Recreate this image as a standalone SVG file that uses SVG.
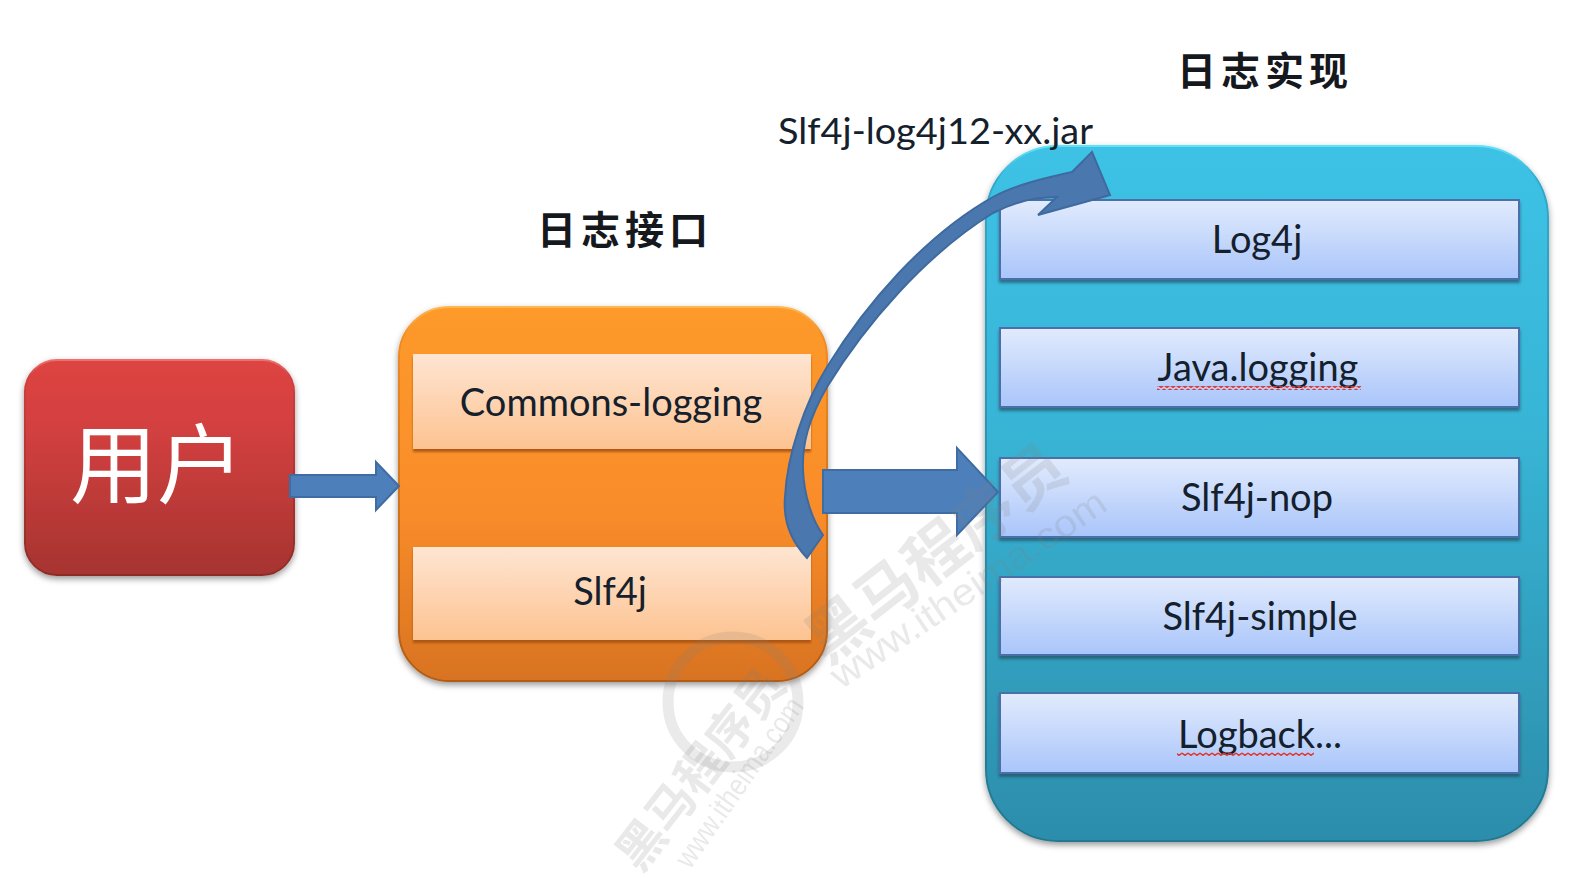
<svg xmlns="http://www.w3.org/2000/svg" width="1578" height="882" viewBox="0 0 1578 882">
<style>
.lbl{font-family:Lato,"Liberation Sans",sans-serif;font-size:38px;fill:#14202c;text-anchor:middle}
.title{font-family:"Noto Sans CJK SC",sans-serif;font-weight:700;font-size:39px;fill:#15181c;letter-spacing:5px}
.blue{fill:url(#gBlue);stroke:#4a6fa8;stroke-width:2;filter:url(#sh)}
.peach{fill:url(#gPeach);filter:url(#sh2)}
.arrow{fill:#4d7fba;stroke:#3f6da3;stroke-width:2}
.squig{fill:url(#sq)}
.wm{font-family:"Noto Sans CJK SC",sans-serif;font-weight:700;fill:#808080;opacity:.17}
.wm2{font-family:"Liberation Sans",sans-serif;fill:#808080;opacity:.17}
</style>
<defs>
<linearGradient id="gRed" x1="0" y1="0" x2="0" y2="1"><stop offset="0" stop-color="#dd4442"/><stop offset=".3" stop-color="#d44040"/><stop offset="1" stop-color="#a63430"/></linearGradient>
<linearGradient id="eRed" x1="0" y1="0" x2="0" y2="1"><stop offset="0" stop-color="#f07070"/><stop offset=".08" stop-color="#cf3f3e"/><stop offset="1" stop-color="#8e2c28"/></linearGradient>
<linearGradient id="gOrange" x1="0" y1="0" x2="0" y2="1"><stop offset="0" stop-color="#fd9a2b"/><stop offset=".55" stop-color="#f98c2a"/><stop offset="1" stop-color="#d87320"/></linearGradient>
<linearGradient id="eOrange" x1="0" y1="0" x2="0" y2="1"><stop offset="0" stop-color="#ffb850"/><stop offset=".08" stop-color="#f08c26"/><stop offset="1" stop-color="#b05c18"/></linearGradient>
<linearGradient id="gTeal" x1="0" y1="0" x2="0" y2="1"><stop offset="0" stop-color="#3cc2e6"/><stop offset=".4" stop-color="#38b5d6"/><stop offset="1" stop-color="#2c8dab"/></linearGradient>
<linearGradient id="eTeal" x1="0" y1="0" x2="0" y2="1"><stop offset="0" stop-color="#62e2fa"/><stop offset=".05" stop-color="#32a8cb"/><stop offset="1" stop-color="#227890"/></linearGradient>
<linearGradient id="gBlue" x1="0" y1="0" x2="0" y2="1"><stop offset="0" stop-color="#e2ebfd"/><stop offset="1" stop-color="#a9c5fa"/></linearGradient>
<linearGradient id="gPeach" x1="0" y1="0" x2="0" y2="1"><stop offset="0" stop-color="#fee5d2"/><stop offset="1" stop-color="#fdc391"/></linearGradient>
<pattern id="sq" width="6" height="4" patternUnits="userSpaceOnUse"><path d="M0 1L3 3.4L6 1" fill="none" stroke="#e0352f" stroke-width="1.4"/></pattern>
<filter id="sh" x="-5%" y="-15%" width="110%" height="135%"><feDropShadow dx="0" dy="3" stdDeviation="1.5" flood-color="#1d3a50" flood-opacity=".6"/></filter>
<filter id="sh2" x="-5%" y="-15%" width="110%" height="135%"><feDropShadow dx="0" dy="3" stdDeviation="1.2" flood-color="#a04d0c" flood-opacity=".8"/></filter>
<filter id="big" x="-5%" y="-5%" width="110%" height="112%"><feDropShadow dx="0" dy="3" stdDeviation="3" flood-color="#000" flood-opacity=".4"/></filter>
</defs>
<rect width="1578" height="882" fill="#fff"/>

<g id="user">
<rect x="25" y="360" width="269" height="215" rx="32" fill="url(#gRed)" stroke="url(#eRed)" stroke-width="2" filter="url(#big)"/>
<text x="157" y="497" font-family="'Noto Sans CJK SC',sans-serif" font-size="87" fill="#fff" text-anchor="middle">用户</text>
</g>

<g id="interface">
<text class="title" x="537" y="244">日志接口</text>
<rect x="399" y="307" width="428" height="374" rx="50" fill="url(#gOrange)" stroke="url(#eOrange)" stroke-width="2" filter="url(#big)"/>
<g id="commons-logging"><rect class="peach" x="413" y="354" width="398" height="95"/><text class="lbl" x="611" y="416">Commons-logging</text></g>
<g id="slf4j"><rect class="peach" x="413" y="547" width="398" height="93"/><text class="lbl" x="610" y="605">Slf4j</text></g>
</g>

<g id="impl">
<text class="title" x="1177" y="85">日志实现</text>
<rect x="986" y="146" width="562" height="695" rx="72" fill="url(#gTeal)" stroke="url(#eTeal)" stroke-width="2" filter="url(#big)"/>
<g id="log4j"><rect class="blue" x="1000" y="200" width="519" height="79"/><text class="lbl" x="1257" y="253">Log4j</text></g>
<g id="java-logging"><rect class="blue" x="1000" y="328" width="519" height="79"/><text class="lbl" x="1258" y="381">Java.logging</text>
<rect class="squig" x="1157" y="386" width="204" height="4"/></g>
<g id="slf4j-nop"><rect class="blue" x="1000" y="458" width="519" height="79"/><text class="lbl" x="1257" y="511">Slf4j-nop</text></g>
<g id="slf4j-simple"><rect class="blue" x="1000" y="577" width="519" height="78"/><text class="lbl" x="1260" y="630">Slf4j-simple</text></g>
<g id="logback"><rect class="blue" x="1000" y="693" width="519" height="80"/><text class="lbl" x="1260" y="748">Logback...</text>
<rect class="squig" x="1177" y="752" width="137" height="4"/></g>
</g>

<g id="connectors">
<path class="arrow" d="M290 475H376V462L399 486L376 510V497H290Z"/>
<path class="arrow" d="M823 470H957V448L998 492L957 535V513H823Z"/>
<path d="M807 558C790 540 783 520 785 497C787 455 805 402 827 367C865 305 925 235 993 197C1015 185 1045 178 1072 172L1092 152L1110 195L1038 215L1057 197C1035 197 1012 203 993 213C925 255 865 325 827 387C808 420 802 445 803 470C804 495 812 520 823 535Z" fill="#4a78ae" stroke="#3e6a9f" stroke-width="2"/>
<text x="778" y="144" font-family="Lato,'Liberation Sans',sans-serif" font-size="37" fill="#14202c" textLength="315" lengthAdjust="spacingAndGlyphs">Slf4j-log4j12-xx.jar</text>
</g>

<g id="watermark">
<text class="wm" font-size="62" transform="translate(827 666) rotate(-38)">黑马程序员</text>
<text class="wm2" font-size="38" textLength="324" lengthAdjust="spacingAndGlyphs" transform="translate(841 690) rotate(-34)">www.itheima.com</text>
<text class="wm" font-size="48" transform="translate(640 874) rotate(-52)">黑马程序员</text>
<text class="wm2" font-size="30" textLength="200" lengthAdjust="spacingAndGlyphs" transform="translate(690 870) rotate(-55)">www.itheima.com</text>
<circle cx="733" cy="702" r="65" fill="none" stroke="#808080" stroke-width="11" opacity=".17"/>
</g>
</svg>
